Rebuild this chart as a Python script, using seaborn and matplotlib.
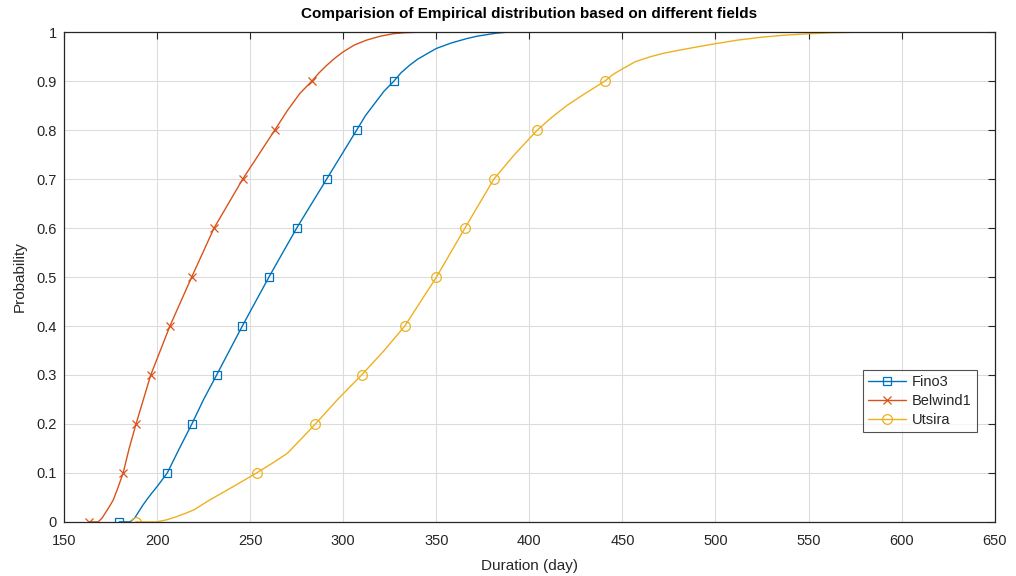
import numpy as np
import pandas as pd
import matplotlib
matplotlib.use("Agg")
import matplotlib.pyplot as plt
import seaborn as sns

# Empirical CDF curves (duration in days vs. cumulative probability)
fino3_days = [179.7, 185.5, 188.0, 190.0, 192.0, 194.4, 197.0, 200.0, 205.5, 212.0,
              218.7, 225.0, 232.0, 245.8, 260.1, 275.0, 291.1, 307.2, 312.0, 317.0,
              322.0, 327.2, 331.0, 335.8, 340.0, 345.0, 350.1, 358.0, 366.3, 372.0,
              377.0, 382.0, 387.7, 405.6]
fino3_prob = [0.0, 0.0, 0.008, 0.02, 0.032, 0.045, 0.058, 0.072, 0.1, 0.15,
              0.2, 0.25, 0.3, 0.4, 0.5, 0.6, 0.7, 0.8, 0.83, 0.855,
              0.88, 0.9, 0.917, 0.933, 0.945, 0.956, 0.967, 0.978, 0.987, 0.992,
              0.995, 0.998, 1.0, 1.0]

belwind1_days = [163.5, 168.4, 170.5, 172.5, 174.5, 176.5, 179.0, 181.8, 185.0, 188.7,
                 196.6, 206.9, 218.6, 230.6, 246.0, 263.2, 270.0, 276.7, 283.1, 287.0,
                 291.0, 295.5, 300.0, 306.0, 312.6, 320.0, 326.9, 333.0, 340.0, 362.7]
belwind1_prob = [0.0, 0.0, 0.008, 0.02, 0.032, 0.045, 0.07, 0.1, 0.15, 0.2,
                 0.3, 0.4, 0.5, 0.6, 0.7, 0.8, 0.84, 0.875, 0.9, 0.917,
                 0.932, 0.947, 0.96, 0.974, 0.984, 0.992, 0.997, 0.999, 1.0, 1.0]

utsira_days = [188.5, 199.8, 205.0, 210.0, 215.0, 220.0, 228.4, 240.0, 253.5, 262.0,
               270.0, 285.1, 297.0, 309.9, 322.0, 333.1, 350.1, 365.4, 380.9, 392.0,
               404.2, 412.0, 420.0, 430.0, 440.5, 445.0, 450.4, 457.0, 465.0, 472.0,
               480.0, 490.0, 500.5, 512.0, 525.0, 537.0, 550.6, 562.0, 575.0, 601.7]
utsira_prob = [0.0, 0.0, 0.004, 0.01, 0.017, 0.025, 0.045, 0.07, 0.1, 0.12,
               0.14, 0.2, 0.25, 0.3, 0.35, 0.4, 0.5, 0.6, 0.7, 0.75,
               0.8, 0.826, 0.85, 0.875, 0.9, 0.914, 0.926, 0.94, 0.95, 0.957,
               0.963, 0.97, 0.977, 0.984, 0.99, 0.994, 0.997, 0.999, 1.0, 1.0]

marker_levels = [0.0, 0.1, 0.2, 0.3, 0.4, 0.5, 0.6, 0.7, 0.8, 0.9]

x_ticks = [150, 200, 250, 300, 350, 400, 450, 500, 550, 600, 650]
y_ticks = [0, 0.1, 0.2, 0.3, 0.4, 0.5, 0.6, 0.7, 0.8, 0.9, 1]

series = [
    ("Fino3", fino3_days, fino3_prob, "#0072BD", "s", 5.5),
    ("Belwind1", belwind1_days, belwind1_prob, "#D95319", "x", 5.5),
    ("Utsira", utsira_days, utsira_prob, "#EDB120", "o", 7.0),
]

sns.set_style("white")
plt.rcParams["font.family"] = ["Liberation Sans", "DejaVu Sans"]

fig, ax = plt.subplots(figsize=(10.16, 5.76), dpi=100)
fig.subplots_adjust(left=0.063, right=0.979, bottom=0.094, top=0.944)

for name, days, prob, color, marker, msize in series:
    df = pd.DataFrame({"Duration": days, "Probability": prob})
    # one marker on the first sample and on each decile level
    idx = [0] + [prob.index(lv) for lv in marker_levels[1:]]
    sns.lineplot(data=df, x="Duration", y="Probability", ax=ax, sort=False,
                 estimator=None, color=color, linewidth=1.0, marker=marker,
                 markersize=msize, markerfacecolor="none", markeredgecolor=color,
                 markeredgewidth=0.9, markevery=idx, label=name)

ax.set_xlim(150, 650)
ax.set_ylim(0, 1)
ax.set_xticks(x_ticks)
ax.set_yticks(y_ticks)
ax.set_xticklabels([str(t) for t in x_ticks])
ax.set_yticklabels(["0", "0.1", "0.2", "0.3", "0.4", "0.5", "0.6", "0.7", "0.8", "0.9", "1"])

ax.grid(True, color="#dcdcdc", linewidth=0.8)
ax.set_axisbelow(True)
for sp in ax.spines.values():
    sp.set_visible(True)
    sp.set_color("#262626")
    sp.set_linewidth(0.9)
ax.tick_params(direction="in", length=5, width=0.8, colors="#262626",
               labelsize=10.5, top=True, right=True, labelcolor="#262626")
ax.tick_params(axis="x", pad=9)
ax.tick_params(axis="y", pad=5)

ax.set_title("Comparision of Empirical distribution based on different fields",
             fontsize=11, fontweight="bold", color="black", pad=10)
ax.set_xlabel("Duration (day)", fontsize=11, color="#262626", labelpad=8)
ax.set_ylabel("Probability", fontsize=11, color="#262626", labelpad=7)

leg = ax.legend(loc="lower right", bbox_to_anchor=(0.981, 0.184), borderaxespad=0,
                fancybox=False, frameon=True, edgecolor="#262626", fontsize=10.5,
                handlelength=2.6, handletextpad=0.4, labelspacing=0.32,
                borderpad=0.35, numpoints=1)
leg.get_frame().set_linewidth(0.8)

fig.savefig("out.png", dpi=100)
